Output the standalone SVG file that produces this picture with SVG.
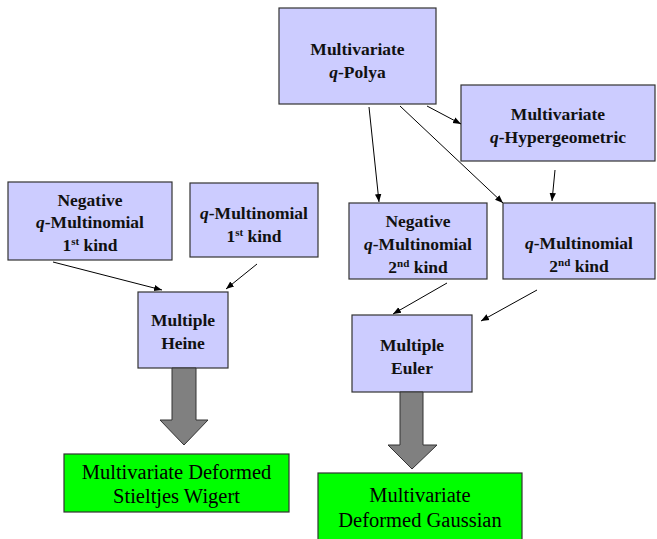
<svg xmlns="http://www.w3.org/2000/svg" width="657" height="539" viewBox="0 0 657 539">
<style>
.box{fill:#ccccff;stroke:#333;stroke-width:1.2}
.g{fill:#00ff00;stroke:#333;stroke-width:1.2}
.t{font-weight:bold;font-size:17.5px;fill:#111;text-anchor:middle}
.gt{font-size:20.5px;fill:#000;text-anchor:middle}
.c{stroke:#000;stroke-width:1;fill:none;marker-end:url(#ah)}
.big{fill:#808080;stroke:#333;stroke-width:1}
</style>
<defs>
<marker id="ah" viewBox="0 0 10 10" refX="10" refY="5" markerWidth="8" markerHeight="8" orient="auto" markerUnits="userSpaceOnUse">
<path d="M0,1 L10,5 L0,9 z" fill="#000"/>
</marker>
</defs>
<g font-family="Liberation Serif, DejaVu Serif, serif">
<g id="polya"><rect class="box" x="279" y="8" width="157" height="96"/>
<text class="t" x="357.5" y="55">Multivariate</text>
<text class="t" x="357.5" y="78"><tspan font-style="italic">q</tspan>-Polya</text></g>
<g id="hyper"><rect class="box" x="461" y="85" width="194" height="76"/>
<text class="t" x="558" y="120">Multivariate</text>
<text class="t" x="558" y="143"><tspan font-style="italic">q</tspan>-Hypergeometric</text></g>
<g id="neg1"><rect class="box" x="8" y="182" width="164" height="78"/>
<text class="t" x="90" y="206">Negative</text>
<text class="t" x="90" y="228"><tspan font-style="italic">q</tspan>-Multinomial</text>
<text class="t" x="90" y="251">1<tspan font-size="11" dy="-6">st</tspan><tspan dy="6"> kind</tspan></text></g>
<g id="mult1"><rect class="box" x="190" y="183" width="128" height="74"/>
<text class="t" x="254" y="219"><tspan font-style="italic">q</tspan>-Multinomial</text>
<text class="t" x="254" y="242">1<tspan font-size="11" dy="-6">st</tspan><tspan dy="6"> kind</tspan></text></g>
<g id="neg2"><rect class="box" x="349" y="203" width="138" height="76"/>
<text class="t" x="418" y="227">Negative</text>
<text class="t" x="418" y="250"><tspan font-style="italic">q</tspan>-Multinomial</text>
<text class="t" x="418" y="273">2<tspan font-size="11" dy="-6">nd</tspan><tspan dy="6"> kind</tspan></text></g>
<g id="mult2"><rect class="box" x="503" y="203" width="152" height="76"/>
<text class="t" x="579" y="249"><tspan font-style="italic">q</tspan>-Multinomial</text>
<text class="t" x="579" y="272">2<tspan font-size="11" dy="-6">nd</tspan><tspan dy="6"> kind</tspan></text></g>
<g id="heine"><rect class="box" x="138" y="292" width="90" height="76"/>
<text class="t" x="183" y="326">Multiple</text>
<text class="t" x="183" y="349">Heine</text>
<polygon class="big" points="172,368 196,368 196,420 208,420 184,445 160,420 172,420"/></g>
<g id="euler"><rect class="box" x="352" y="315" width="120" height="77"/>
<text class="t" x="412" y="351">Multiple</text>
<text class="t" x="412" y="374">Euler</text>
<polygon class="big" points="400,392 423,392 423,445 437,445 412,469 388,445 400,445"/></g>
<g id="stieltjes"><rect class="g" x="64" y="454" width="225" height="58"/>
<text class="gt" x="176.5" y="479">Multivariate Deformed</text>
<text class="gt" x="176.5" y="503">Stieltjes Wigert</text></g>
<g id="gaussian"><rect class="g" x="318" y="473" width="204" height="70"/>
<text class="gt" x="420" y="502">Multivariate</text>
<text class="gt" x="420" y="527">Deformed Gaussian</text></g>
</g>
<g id="connectors">
<line class="c" x1="369" y1="107" x2="379" y2="202"/>
<line class="c" x1="400" y1="106" x2="503" y2="203"/>
<line class="c" x1="427" y1="106" x2="461" y2="124"/>
<line class="c" x1="555" y1="170" x2="552" y2="201"/>
<line class="c" x1="53" y1="262" x2="162" y2="290"/>
<line class="c" x1="257" y1="264" x2="226" y2="289"/>
<line class="c" x1="447" y1="283" x2="393" y2="314"/>
<line class="c" x1="537" y1="290" x2="481" y2="321"/>
</g>
</svg>
